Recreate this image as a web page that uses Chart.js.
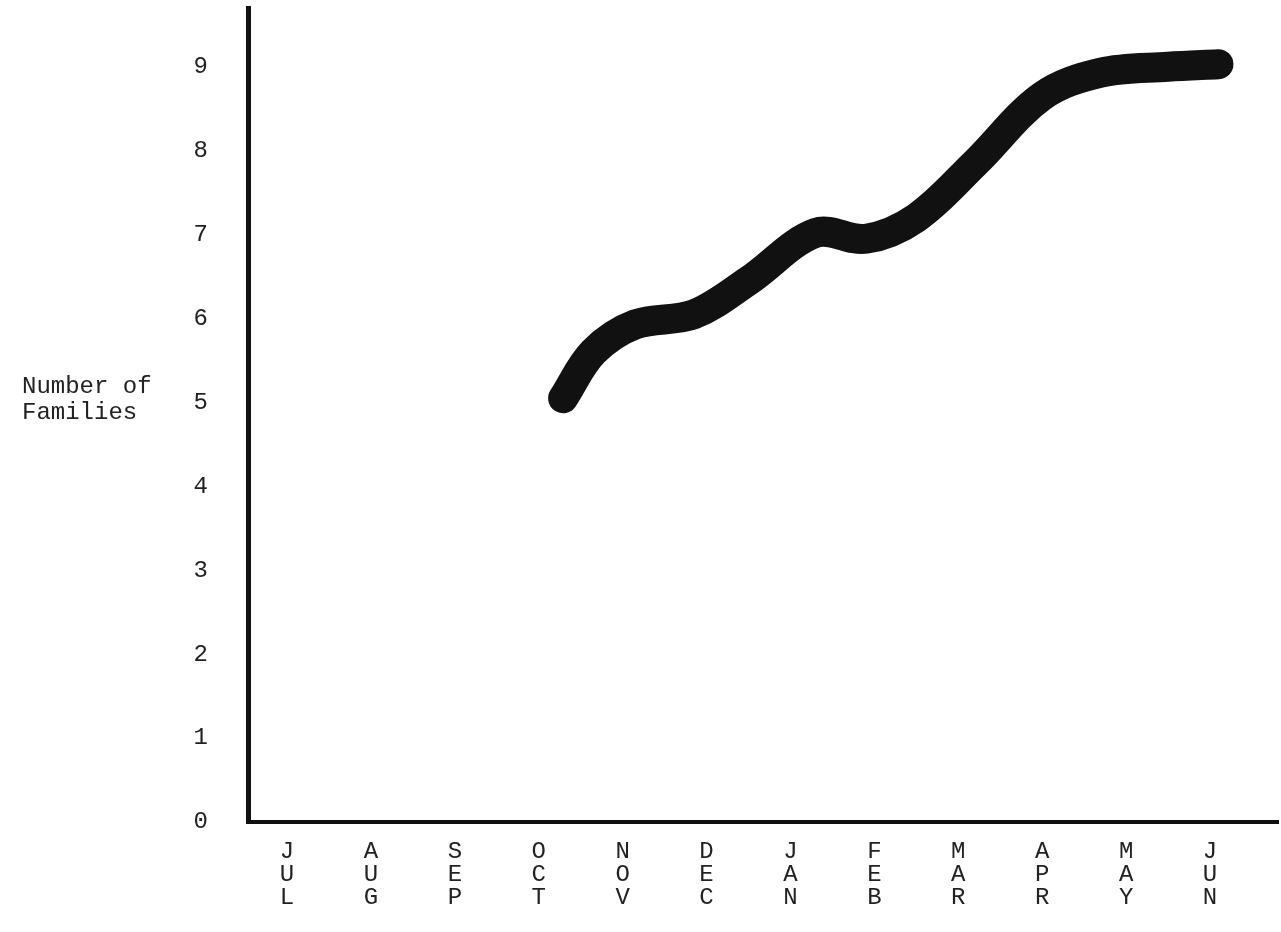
<!DOCTYPE html>
<html>
<head>
<meta charset="utf-8">
<script src="https://cdn.jsdelivr.net/npm/chart.js@4"></script>
<style>
  body { margin: 0; background: #fff; }
  #wrap { position: relative; width: 1281px; height: 932px; }
  #ylabel {
    position: absolute; left: 22px; top: 374px;
    font-family: "Liberation Mono", monospace; font-size: 24px; line-height: 26px;
    color: #222; white-space: pre;
  }
</style>
</head>
<body>
<div id="wrap">
  <canvas id="grafico" width="1281" height="932"></canvas>
  <div id="ylabel">Number of
Families</div>
</div>
<script>
// Meses (eje x) y valores
const meses = ["JUL", "AUG", "SEP", "OCT", "NOV", "DEC", "JAN", "FEB", "MAR", "APR", "MAY", "JUN"];
const posMes = [3.29, 3.65, 4.15, 4.85, 5.5, 6.3, 6.9, 7.5, 8.2, 9.0, 9.7, 10.5, 11.1];
const familias = [5.05, 5.6, 5.93, 6.05, 6.45, 7.02, 6.95, 7.2, 7.85, 8.65, 8.93, 9.0, 9.03];
const ticksY = [0, 1, 2, 3, 4, 5, 6, 7, 8, 9];

const fuente = { family: "'Liberation Mono', monospace", size: 24, lineHeight: 0.96 };

const puntos = posMes.map((x, i) => ({ x: x, y: familias[i] }));

new Chart(document.getElementById("grafico").getContext("2d"), {
  type: "line",
  data: {
    datasets: [{
      data: puntos,
      borderColor: "#111",
      borderWidth: 30,
      borderCapStyle: "round",
      borderJoinStyle: "round",
      pointRadius: 0,
      tension: 0.35,
      fill: false
    }]
  },
  options: {
    responsive: false,
    animation: false,
    layout: { padding: { top: 8, right: 3, left: 0, bottom: 0 } },
    plugins: { legend: { display: false }, tooltip: { enabled: false } },
    scales: {
      x: {
        type: "linear",
        min: -0.465,
        max: 11.81,
        grid: { display: false },
        border: { display: true, color: "#111", width: 4 },
        afterBuildTicks: s => { s.ticks = meses.map((m, i) => ({ value: i })); },
        afterFit: s => { s.height = 110; s.paddingLeft = 0; s.paddingRight = 0; },
        ticks: {
          autoSkip: false,
          maxRotation: 0,
          padding: 10,
          color: "#222",
          font: fuente,
          callback: v => meses[v] ? meses[v].split("") : ""
        }
      },
      y: {
        min: 0,
        max: 9.7,
        grid: { display: false },
        border: { display: true, color: "#111", width: 5 },
        afterBuildTicks: s => { s.ticks = ticksY.map(v => ({ value: v })); },
        afterFit: s => { s.width = 248; s.paddingTop = 0; s.paddingBottom = 0; },
        ticks: {
          padding: 32,
          color: "#222",
          font: fuente
        }
      }
    }
  }
});
</script>
</body>
</html>
